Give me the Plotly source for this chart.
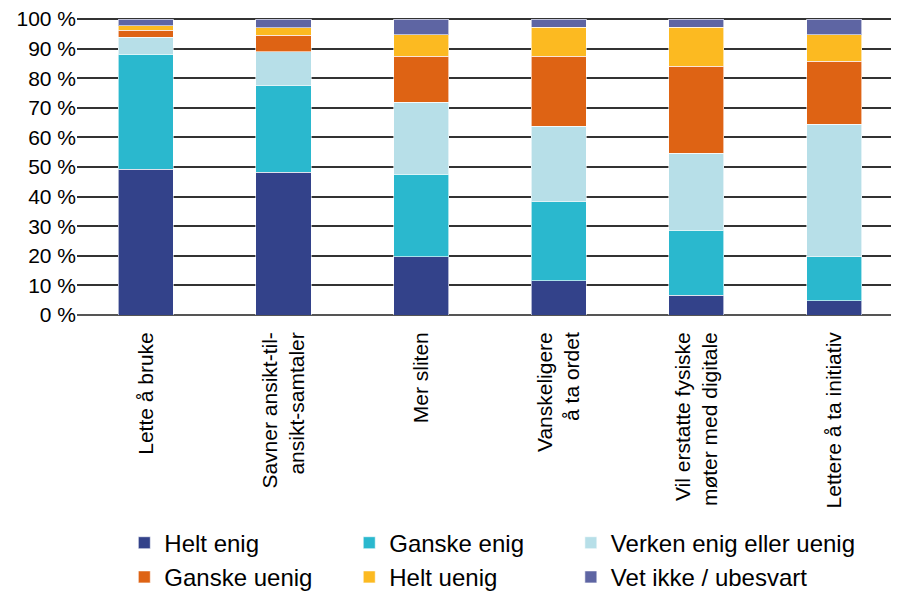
import plotly.graph_objects as go

# categories and answers
categories = [
    "Lette å bruke",
    "Savner ansikt-til-<br>ansikt-samtaler",
    "Mer sliten",
    "Vanskeligere<br>å ta ordet",
    "Vil erstatte fysiske<br>møter med digitale",
    "Lettere å ta initiativ",
]

helt_enig = [49.2, 48.2, 19.7, 11.5, 6.6, 4.9]
ganske_enig = [38.9, 29.3, 27.8, 26.8, 22.0, 14.8]
verken = [5.7, 11.5, 24.3, 25.4, 26.1, 44.8]
ganske_uenig = [2.4, 5.6, 15.6, 23.7, 29.3, 21.2]
helt_uenig = [1.6, 2.5, 7.3, 9.8, 13.2, 9.0]
vet_ikke = [2.2, 2.9, 5.3, 2.8, 2.8, 5.3]

y_ticks = list(range(0, 101, 10))
y_labels = [f"{v} %" for v in y_ticks]

# name, values, colour, legend column
series = [
    ("Helt enig", helt_enig, "#33428a", "legend"),
    ("Ganske enig", ganske_enig, "#2ab8ce", "legend2"),
    ("Verken enig eller uenig", verken, "#b7dfe8", "legend3"),
    ("Ganske uenig", ganske_uenig, "#de6314", "legend"),
    ("Helt uenig", helt_uenig, "#fcba21", "legend2"),
    ("Vet ikke / ubesvart", vet_ikke, "#5e65a3", "legend3"),
]

FONT = "Liberation Sans, Arial, sans-serif"

fig = go.Figure()
for name, vals, color, leg in series:
    fig.add_trace(go.Bar(
        x=categories,
        y=vals,
        name=name,
        legend=leg,
        marker=dict(color=color, line=dict(color="rgba(255,255,255,0.6)", width=1)),
    ))

LEG_Y = -0.69
def legend_col(x):
    return dict(
        orientation="v",
        x=x, xanchor="left",
        y=LEG_Y, yanchor="top",
        traceorder="normal",
        font=dict(size=24),
        bgcolor="rgba(0,0,0,0)",
        tracegroupgap=0,
    )

fig.update_layout(
    width=899,
    height=594,
    barmode="stack",
    bargap=0.6,
    plot_bgcolor="white",
    paper_bgcolor="rgba(0,0,0,0)",
    margin=dict(l=69, r=0, t=9, b=287, autoexpand=False),
    font=dict(family=FONT, size=21, color="black"),
    showlegend=True,
    legend=legend_col(0.057),
    legend2=legend_col(0.328),
    legend3=legend_col(0.595),
    yaxis=dict(
        range=[0, 100.68],
        tickvals=y_ticks,
        ticktext=y_labels,
        ticklabeloverflow="allow",
        automargin=False,
        showgrid=True,
        gridcolor="#333333",
        gridwidth=1.5,
        zeroline=True,
        zerolinecolor="#555555",
        zerolinewidth=2,
        tickfont=dict(size=21),
    ),
    xaxis=dict(
        range=[-0.5, 5.53],
        tickangle=-90,
        automargin=False,
        ticklabelstandoff=12,
        showline=False,
        tickfont=dict(size=21),
    ),
)

fig.write_html("out.html")
